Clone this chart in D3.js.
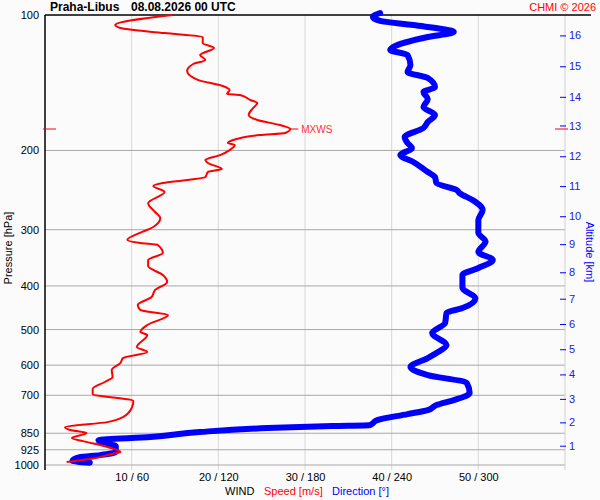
<!DOCTYPE html>
<html>
<head>
<meta charset="utf-8">
<script src="https://cdn.jsdelivr.net/npm/d3@7"></script>
<style>
  body { margin: 0; background: #fbfbfb; }
  svg { display: block; font-family: "Liberation Sans", Arial, sans-serif; }
</style>
</head>
<body>
<div class="chart"></div>
<script>
// pressure levels on the left axis
var pressureTicks = [100, 200, 300, 400, 500, 600, 700, 850, 925, 1000];
// bottom axis: speed [m/s] / direction [deg]
var speedTicks = [10, 20, 30, 40, 50];
var dirTicks = [60, 120, 180, 240, 300];
// altitude ticks [km] and the pressure where each one sits
var altKm = [1, 2, 3, 4, 5, 6, 7, 8, 9, 10, 11, 12, 13, 14, 15, 16];
var altPressure = [906, 804, 713, 629, 553, 486, 427, 373, 323, 280, 240, 206, 176, 152, 130, 111];

// wind speed profile
var speedP = [100, 105.3, 106.9, 109.7, 111.9, 115.4, 118.4, 122.7, 125.9, 128.5, 133.2, 139.5,
  143.8, 146.8, 149.8, 150.6, 154.5, 156.9, 161, 166.8, 171.1, 175.6, 179.2, 182.9, 184.8,
  189.6, 192.6, 194.5, 199.6, 204.8, 210.1, 213.3, 219.9, 223.4, 229.2, 232.7, 236.3, 239.9,
  247.4, 261.9, 274, 282.6, 295.9, 303.5, 316.2, 321.1, 324.4, 337.9, 350.3, 361.3, 378.3,
  392, 408.5, 423.4, 441.1, 452.5, 464.2, 488.6, 506.5, 514.3, 546.9, 561, 578.6, 593.5,
  615.2, 637.6, 654, 677, 695.6, 721, 747.3, 782.6, 803, 823.8, 836.4, 849.3, 871.4, 885,
  912, 935.7, 945.4, 969.8, 984.8];
var speedV = [14.7, 8.1, 8.7, 13.8, 18.2, 18.2, 19.5, 17.9, 18.5, 17.1, 16.4, 17.7,
  20.5, 21.3, 21.0, 22.5, 23.7, 24.5, 24.0, 23.5, 24.5, 27.1, 28.3, 27.7, 24.8,
  21.7, 21.1, 21.9, 21.3, 20.2, 18.5, 18.8, 20.4, 18.8, 18.5, 16.4, 13.6, 12.5,
  13.8, 11.9, 12.7, 13.3, 12.5, 11.2, 9.5, 11.0, 13.0, 13.6, 11.9, 11.9, 13.6,
  14.1, 12.7, 12.3, 10.7, 11.0, 14.2, 11.8, 11.0, 11.8, 10.6, 11.8, 9.0, 8.7,
  7.7, 7.8, 6.9, 5.5, 5.5, 10.2, 10.0, 9.0, 7.2, 2.3, 2.9, 4.8, 3.1, 4.4,
  7.2, 8.7, 7.7, 5.2, 2.5];

// wind direction profile
var dirP = [99, 101, 103.1, 105.3, 109.1, 111.9, 117.8, 119.6, 122.7, 129.2, 133.9, 138,
  144.6, 148.3, 153.7, 160.2, 166.8, 172.9, 178.3, 186.7, 192.6, 197.6, 204.8, 212.2,
  223.4, 229.2, 236.3, 244.9, 248.7, 257.7, 271.3, 285.5, 304.9, 318.8, 336.3, 350.3,
  365, 378.3, 404.3, 425.8, 448, 459.5, 483.6, 509.1, 541.3, 563.9, 578.6, 605.8, 631.2,
  657.5, 691.6, 717.3, 735.9, 755, 770.7, 794.7, 815.3, 819.5, 828, 844.8, 866.3, 880.4,
  894.2, 907.8, 935.7, 950.7, 960.5, 978, 988];
var dirV = [232, 227, 232, 255, 283, 265, 241, 239, 251, 253, 251, 265,
  270, 262, 265, 262, 270, 265, 262, 249, 251, 254, 246, 255,
  265, 270, 271, 285, 287, 296, 303, 300, 300, 305, 300, 310,
  300, 289, 289, 298, 289, 278, 277, 268, 278, 271, 265, 253, 265,
  292, 294, 283, 271, 265, 251, 230, 225, 199, 154, 107, 73, 37,
  40, 49, 49, 38, 24, 19, 31];

var maxWind = { p: 179.2, v: 28.3 };

var W = 600, H = 500;
var plot = { left: 45, right: 565, top: 15, bottom: 465 };

var svg = d3.select('.chart').append('svg')
  .attr('width', W)
  .attr('height', H);

svg.append('rect').attr('width', W).attr('height', H).attr('fill', '#fbfbfb');

var x = d3.scaleLinear().domain([0, 60]).range([plot.left, plot.right]);
var xDir = d3.scaleLinear().domain([0, 360]).range([plot.left, plot.right]);
var y = d3.scaleLog().domain([100, 1000]).range([plot.top, plot.bottom]);
var yAlt = d3.scaleLinear()
  .domain(altKm)
  .range(altPressure.map(function(p) { return y(p); }));

// vertical grid
svg.append('g').selectAll('line')
  .data(speedTicks)
  .enter().append('line')
  .attr('x1', function(d) { return x(d); })
  .attr('x2', function(d) { return x(d); })
  .attr('y1', plot.top).attr('y2', plot.bottom + 5)
  .attr('stroke', '#d8d8d8');

// horizontal grid
svg.append('g').selectAll('line')
  .data(pressureTicks.slice(1))
  .enter().append('line')
  .attr('x1', plot.left).attr('x2', plot.right)
  .attr('y1', function(d) { return y(d); })
  .attr('y2', function(d) { return y(d); })
  .attr('stroke', '#a8a8a8');

// right frame line
svg.append('line')
  .attr('x1', plot.right).attr('x2', plot.right)
  .attr('y1', plot.top).attr('y2', plot.bottom + 5)
  .attr('stroke', '#d0d0d0');

// left axis
var leftAxis = d3.axisLeft(y)
  .tickValues(pressureTicks)
  .tickFormat(d3.format('d'))
  .tickSize(0)
  .tickPadding(6);
var gl = svg.append('g')
  .attr('transform', 'translate(' + plot.left + ',0)')
  .call(leftAxis);
gl.select('.domain').remove();
gl.selectAll('text').attr('font-size', 11).attr('fill', '#000')
  .attr('font-family', '"Liberation Sans", Arial, sans-serif');

svg.append('line')
  .attr('x1', plot.left).attr('x2', plot.left)
  .attr('y1', plot.top).attr('y2', plot.bottom + 5)
  .attr('stroke', '#000').attr('stroke-width', 1.5);
svg.append('line')
  .attr('x1', plot.left).attr('x2', 591)
  .attr('y1', plot.top).attr('y2', plot.top)
  .attr('stroke', '#000').attr('stroke-width', 1.5);

// bottom labels
var bottomAxis = d3.axisBottom(x)
  .tickValues(speedTicks)
  .tickFormat(function(d, i) { return d + ' / ' + dirTicks[i]; })
  .tickSize(0)
  .tickPadding(7);
var gb = svg.append('g')
  .attr('transform', 'translate(0,' + (plot.bottom + 1) + ')')
  .call(bottomAxis);
gb.select('.domain').remove();
gb.selectAll('text').attr('font-size', 11).attr('fill', '#000')
  .attr('font-family', '"Liberation Sans", Arial, sans-serif');

// altitude axis
var altAxis = d3.axisRight(yAlt)
  .tickValues(altKm)
  .tickFormat(d3.format('d'))
  .tickSize(6)
  .tickPadding(3);
var ga = svg.append('g')
  .attr('transform', 'translate(' + (plot.right - 5) + ',0)')
  .call(altAxis);
ga.select('.domain').remove();
ga.selectAll('line').attr('stroke', '#0000ff');
ga.selectAll('text').attr('font-size', 11).attr('fill', '#2020e0')
  .attr('font-family', '"Liberation Sans", Arial, sans-serif');

// curves
var speedLine = d3.line()
  .x(function(d) { return x(d[1]); })
  .y(function(d) { return y(d[0]); })
  .curve(d3.curveMonotoneY);
var dirLine = d3.line()
  .x(function(d) { return xDir(d[1]); })
  .y(function(d) { return y(d[0]); })
  .curve(d3.curveMonotoneY);

svg.append('path')
  .datum(d3.zip(dirP, dirV))
  .attr('d', dirLine)
  .attr('fill', 'none')
  .attr('stroke', '#0000ff')
  .attr('stroke-width', 6)
  .attr('stroke-linejoin', 'round')
  .attr('stroke-linecap', 'round');

svg.append('path')
  .datum(d3.zip(speedP, speedV))
  .attr('d', speedLine)
  .attr('fill', 'none')
  .attr('stroke', '#ff0000')
  .attr('stroke-width', 2)
  .attr('stroke-linejoin', 'round');

// max wind marker
var yMax = y(maxWind.p);
svg.append('line').attr('x1', plot.left - 2).attr('x2', plot.left + 11)
  .attr('y1', yMax).attr('y2', yMax).attr('stroke', '#ff0000');
svg.append('line').attr('x1', plot.right - 10).attr('x2', plot.right + 3)
  .attr('y1', yMax).attr('y2', yMax).attr('stroke', '#ff0000');
svg.append('line').attr('x1', x(maxWind.v)).attr('x2', x(maxWind.v) + 8)
  .attr('y1', yMax).attr('y2', yMax).attr('stroke', '#ff0000');
svg.append('text')
  .attr('x', x(maxWind.v) + 11).attr('y', yMax + 4)
  .attr('font-size', 10).attr('fill', '#ff3030')
  .text('MXWS');

// titles
svg.append('text').attr('x', 50).attr('y', 11)
  .attr('font-size', 12).attr('font-weight', 'bold').text('Praha-Libus');
svg.append('text').attr('x', 131).attr('y', 11)
  .attr('font-size', 12).attr('font-weight', 'bold').text('08.08.2026 00 UTC');
svg.append('text').attr('x', 596).attr('y', 11)
  .attr('font-size', 11).attr('fill', '#ff0000').attr('text-anchor', 'end')
  .text('CHMI \u00a9 2026');

svg.append('text').attr('x', 225).attr('y', 495)
  .attr('font-size', 11).attr('fill', '#000').text('WIND');
svg.append('text').attr('x', 264).attr('y', 495)
  .attr('font-size', 11).attr('fill', '#ff0000').text('Speed [m/s]');
svg.append('text').attr('x', 332).attr('y', 495)
  .attr('font-size', 11).attr('fill', '#0000ff').text('Direction [\u00b0]');

svg.append('text')
  .attr('transform', 'translate(12,248) rotate(-90)')
  .attr('text-anchor', 'middle')
  .attr('font-size', 11).attr('fill', '#000')
  .text('Pressure [hPa]');
svg.append('text')
  .attr('transform', 'translate(586,252) rotate(90)')
  .attr('text-anchor', 'middle')
  .attr('font-size', 11).attr('fill', '#0000ff')
  .text('Altitude [km]');
</script>
</body>
</html>
